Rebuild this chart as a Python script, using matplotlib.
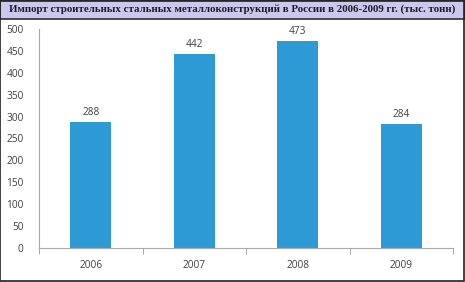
import matplotlib.pyplot as plt
from matplotlib.patches import Rectangle

years = ['2006', '2007', '2008', '2009']
values = [288, 442, 473, 284]
yticks = [0, 50, 100, 150, 200, 250, 300, 350, 400, 450, 500]

fig = plt.figure(figsize=(4.65, 2.82), dpi=100)
fig.patch.set_facecolor('white')

# title bar
fig.patches.append(Rectangle((0, 1 - 19 / 282), 1, 19 / 282, transform=fig.transFigure,
                             facecolor='#c9c9ee', edgecolor='#303030', linewidth=1.2))
fig.patches.append(Rectangle((0.001, 0.002), 0.997, 0.996, transform=fig.transFigure,
                             facecolor='none', edgecolor='#202020', linewidth=1.2))
fig.text(0.5, 1 - 9.5 / 282, 'Импорт строительных стальных металлоконструкций в России в 2006-2009 гг. (тыс. тонн)',
         ha='center', va='center', fontsize=7.85, fontweight='bold',
         family=['Liberation Serif', 'DejaVu Serif'], color='#1a1a2a')

ax = fig.add_axes([39 / 465, 1 - 248 / 282, (453 - 39) / 465, (248 - 29) / 282])
x = range(len(years))
ax.bar(x, values, width=0.4, color='#2e9ad5')
for i, v in enumerate(values):
    ax.text(i, v + 9, str(v), ha='center', va='bottom', fontsize=7.3, color='#404040',
            family='Open Sans')

ax.set_xlim(-0.5, 3.5)
ax.set_ylim(0, 500)
ax.set_yticks(yticks)
ax.set_yticklabels([str(t) for t in yticks], fontsize=7.3, color='#404040', family='Open Sans')
ax.set_xticks(list(x))
ax.set_xticklabels(years, fontsize=7.3, color='#404040', family='Open Sans')
ax.set_xticks([-0.5, 0.5, 1.5, 2.5, 3.5], minor=True)
ax.tick_params(axis='x', which='major', length=0, pad=9)
ax.tick_params(axis='x', which='minor', length=4, color='#999999', direction='out')
ax.tick_params(axis='y', length=0, pad=11)
for s in ['top', 'right']:
    ax.spines[s].set_visible(False)
ax.spines['left'].set_color('#aaaaaa')
ax.spines['bottom'].set_color('#aaaaaa')

fig.savefig('out.png', dpi=100)
